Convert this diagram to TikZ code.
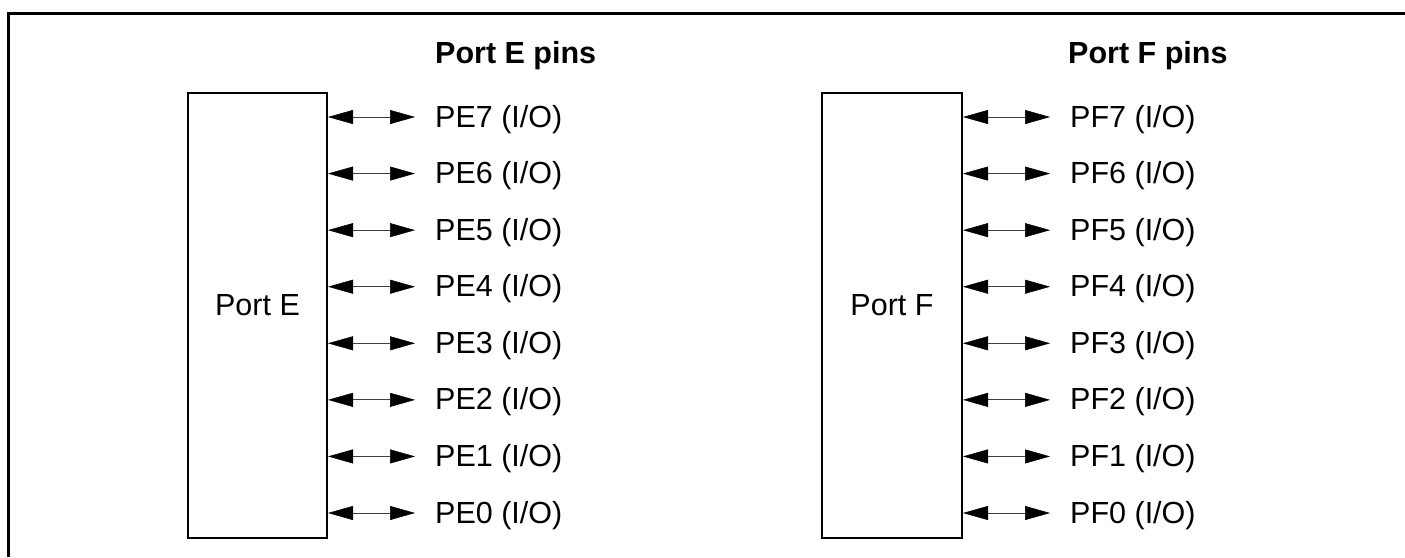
\documentclass[tikz,border=0pt]{standalone}
\usepackage{fontspec}
\setmainfont{Liberation Sans}
\usetikzlibrary{arrows.meta}
\begin{document}
\begin{tikzpicture}[x=1pt,y=-1pt,
  portbox/.style={draw=black,line width=1.6pt},
  pintip/.style={},
  pinarrow/.style={{Triangle[length=25pt 0 0,width=14pt 0 0,black,fill=black,line width=0.5pt]}-{Triangle[length=25pt 0 0,width=14pt 0 0,black,fill=black,line width=0.5pt]},line width=1pt,draw=black!75},
  pinlabel/.style={anchor=base west,inner sep=0pt,font=\fontsize{30.5}{36}\selectfont},
  headlabel/.style={anchor=base west,inner sep=0pt,font=\fontsize{30.5}{36}\selectfont\bfseries},
  portlabel/.style={anchor=base,inner sep=0pt,font=\fontsize{30.5}{36}\selectfont}]
\useasboundingbox (0,0) rectangle (1405,557);
\draw[line width=3pt] (1405,13.5) -- (8,13.5) -- (8,557);
% Port E
\node[headlabel] (hE) at (435,63) {Port E pins};
\draw[portbox] (188,93) rectangle (327,538);
\node[portlabel] (lE) at (257.5,315) {Port E};
\foreach \i in {0,...,7}{
  \pgfmathsetmacro{\yy}{513-56.57*\i}
  \coordinate (Ea\i) at (328,\yy);
  \coordinate (Eb\i) at (415,\yy);
  \draw[pinarrow] (Ea\i) -- (Eb\i);
  \node[pinlabel] (pE\i) at (435,\yy+10) {PE\i{} (I/O)};
}
% Port F
\node[headlabel] (hF) at (1068,63) {Port F pins};
\draw[portbox] (822,93) rectangle (962,538);
\node[portlabel] (lF) at (892,315) {Port F};
\foreach \i in {0,...,7}{
  \pgfmathsetmacro{\yy}{513-56.57*\i}
  \coordinate (Fa\i) at (963,\yy);
  \coordinate (Fb\i) at (1050,\yy);
  \draw[pinarrow] (Fa\i) -- (Fb\i);
  \node[pinlabel] (pF\i) at (1070,\yy+10) {PF\i{} (I/O)};
}
\end{tikzpicture}
\end{document}
